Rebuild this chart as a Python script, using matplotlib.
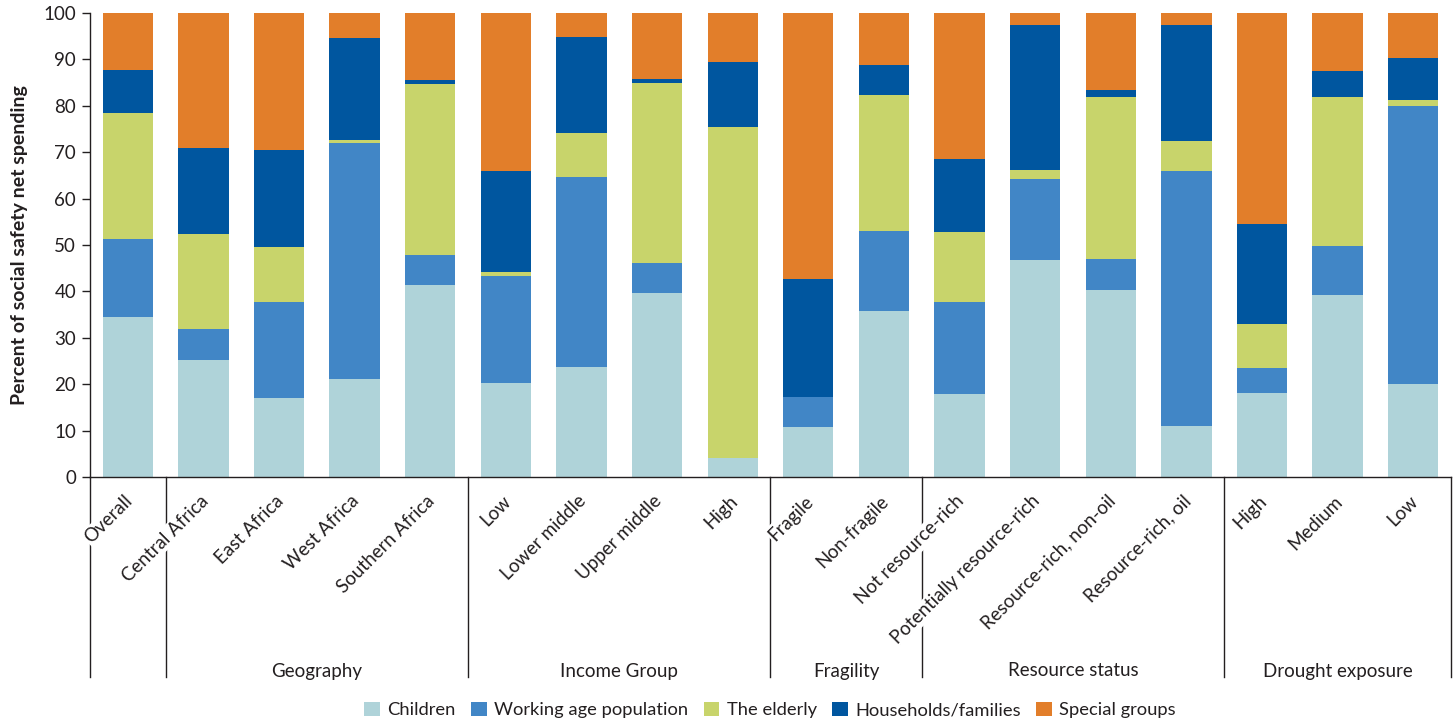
import matplotlib
matplotlib.use("Agg")
import matplotlib.pyplot as plt
import matplotlib.transforms as mtransforms
from matplotlib.patches import Patch
import numpy as np

plt.rcParams['font.family'] = ['Lato', 'DejaVu Sans']

categories = ["Overall", "Central Africa", "East Africa", "West Africa", "Southern Africa",
              "Low", "Lower middle", "Upper middle", "High",
              "Fragile", "Non-fragile",
              "Not resource-rich", "Potentially resource-rich", "Resource-rich, non-oil", "Resource-rich, oil",
              "High", "Medium", "Low"]

children = [34.5, 25.3, 17.0, 21.1, 41.3, 20.3, 23.8, 39.6, 4.1, 10.8, 35.7,
            17.8, 46.7, 40.2, 10.9, 18.2, 39.2, 20.0]
working_age = [16.8, 6.5, 20.7, 50.9, 6.6, 23.0, 40.8, 6.5, 0.0, 6.4, 17.3,
               20.0, 17.5, 6.8, 55.1, 5.2, 10.6, 59.9]
elderly = [27.1, 20.5, 11.8, 0.7, 36.8, 0.8, 9.5, 38.8, 71.3, 0.0, 29.3,
           14.9, 1.9, 35.0, 6.5, 9.5, 32.0, 1.3]
households = [9.3, 18.6, 20.9, 22.0, 0.9, 21.8, 20.8, 0.9, 14.1, 25.4, 6.5,
              15.9, 31.3, 1.4, 24.9, 21.6, 5.7, 9.0]
special = [12.3, 29.1, 29.6, 5.3, 14.4, 34.1, 5.1, 14.2, 10.5, 57.4, 11.2,
           31.4, 2.6, 16.6, 2.6, 45.5, 12.5, 9.8]

series_names = ["Children", "Working age population", "The elderly",
                "Households/families", "Special groups"]
series_colors = ["#AFD3D9", "#4186C6", "#C8D46B", "#00569F", "#E27E2A"]

group_names = ["", "Geography", "Income Group", "Fragility", "Resource status", "Drought exposure"]
group_sizes = [1, 4, 4, 2, 4, 3]

text_color = "#231F20"

fig = plt.figure(figsize=(14.54, 7.24), dpi=100)
ax = fig.add_axes([90 / 1454, 247 / 724, 1361 / 1454, 464 / 724])

x = np.arange(len(categories))
bottom = np.zeros(len(categories))
for vals, name, col in zip([children, working_age, elderly, households, special],
                           series_names, series_colors):
    vals = np.array(vals)
    ax.bar(x, vals, width=0.665, bottom=bottom, color=col, linewidth=0, label=name)
    bottom += vals

ax.set_xlim(-0.5, len(categories) - 0.5)
ax.set_ylim(0, 100)
ax.set_yticks(range(0, 101, 10))
ax.tick_params(axis='y', direction='out', length=6, width=1, colors=text_color,
               labelsize=13.5, pad=4)
ax.tick_params(axis='x', length=0, pad=11)
ax.set_xticks(x)
ax.set_xticklabels(categories, rotation=45, ha='right', va='top',
                   rotation_mode='anchor', fontsize=13.5, color=text_color)
shift = mtransforms.ScaledTranslation(-4 / 100, 0, fig.dpi_scale_trans)
for lbl in ax.get_xticklabels():
    lbl.set_bbox(dict(facecolor='white', edgecolor='none', pad=1.0))
    lbl.set_transform(lbl.get_transform() + shift)

for side in ['top', 'right']:
    ax.spines[side].set_visible(False)
for side in ['left', 'bottom']:
    ax.spines[side].set_color(text_color)
    ax.spines[side].set_linewidth(1)
ax.spines['bottom'].set_zorder(5)

# group separators and group titles below the axis
trans = mtransforms.blended_transform_factory(ax.transData, ax.transAxes)
bounds = np.concatenate([[0], np.cumsum(group_sizes)]) - 0.5
line_bottom = -200 / 464
for b in bounds:
    ax.plot([b, b], [0, line_bottom], transform=trans, color=text_color,
            linewidth=1, clip_on=False, zorder=0)
for name, lo, hi in zip(group_names, bounds[:-1], bounds[1:]):
    if name:
        ax.text((lo + hi) / 2, -194 / 464, name, transform=trans, ha='center',
                va='center', fontsize=13.5, color=text_color)

fig.text(20 / 1454, 1 - 245 / 724, "Percent of social safety net spending",
         rotation=90, ha='center', va='center', fontsize=14, fontweight='bold',
         color=text_color)

handles = [Patch(facecolor=c, edgecolor='none', label=n)
           for n, c in zip(series_names, series_colors)]
fig.legend(handles=handles, loc='center', bbox_to_anchor=(770 / 1454, 1 - 710 / 724),
           ncol=5, frameon=False, fontsize=13.2, handlelength=0.85, handleheight=0.85,
           handletextpad=0.4, columnspacing=0.85, labelcolor=text_color)

fig.savefig("out.png", dpi=100)
